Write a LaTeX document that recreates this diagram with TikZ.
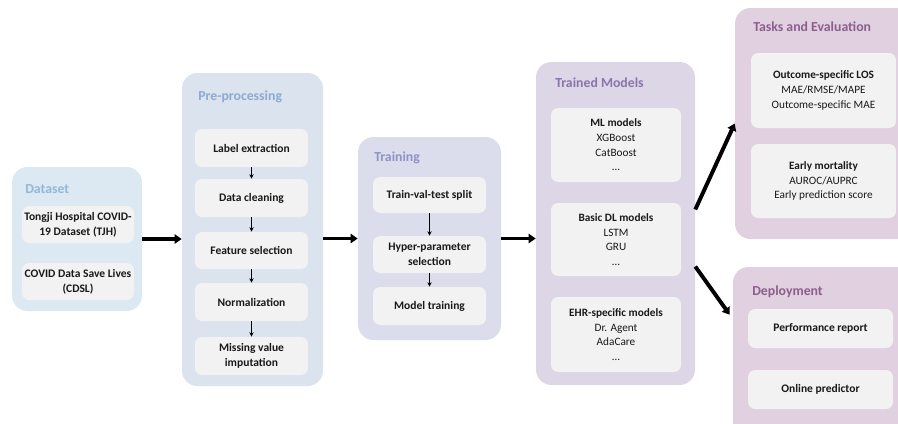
\documentclass[tikz,border=0pt]{standalone}
\usepackage{fontspec}
\setmainfont{Carlito}
\usetikzlibrary{fit,calc,arrows.meta}

\definecolor{dataBg}{HTML}{DCE9F2}
\definecolor{dataTitle}{HTML}{8FB9DA}
\definecolor{preBg}{HTML}{DAE3EE}
\definecolor{preTitle}{HTML}{8DAAD2}
\definecolor{trainBg}{HTML}{DCDDEC}
\definecolor{trainTitle}{HTML}{8E93C4}
\definecolor{modelBg}{HTML}{DCD6E6}
\definecolor{modelTitle}{HTML}{8D73AC}
\definecolor{evalBg}{HTML}{E0D0E0}
\definecolor{evalTitle}{HTML}{8E5E8E}
\definecolor{boxBg}{HTML}{F2F2F2}

% one unit of the grid
\newcommand{\pxu}{0.025cm}

\tikzset{
  panel/.style={fill=#1, rounded corners=11pt, inner sep=0pt},
  paneltitle/.style={anchor=west, text=#1, inner sep=0pt,
    font=\fontsize{9.8}{12}\selectfont\bfseries},
  boxsize/.style n args={2}{minimum width=#1*\pxu, minimum height=#2*\pxu},
  stepbox/.style={fill=boxBg, rounded corners=5pt, inner sep=0pt, align=center,
    text=black!90, font=\fontsize{8.2}{10.5}\selectfont\bfseries},
  listbox/.style={fill=boxBg, rounded corners=5pt, inner sep=0pt, align=center,
    text=black!90, font=\fontsize{8}{10.4}\selectfont},
  flow/.style={-{Triangle[length=5pt,width=6.5pt]}, line width=2.8pt},
  thinflow/.style={-{Stealth[length=3.2pt,width=3pt]}, line width=0.8pt},
}

\begin{document}
\begin{tikzpicture}[x=0.025cm, y=-0.025cm]
    \useasboundingbox (0,0) rectangle (898,423);
    \clip (0,0) rectangle (898,423);

    % stage panels
    \node[panel=dataBg, fit={(12,167) (142,311)}] (dataset) {};
    \node[panel=preBg, fit={(182,73) (323,386)}] (pre) {};
    \node[panel=trainBg, fit={(358,137) (501,340)}] (train) {};
    \node[panel=modelBg, fit={(536,62) (695,385)}] (models) {};
    \node[panel=evalBg, fit={(735,8) (915,239)}] (tasks) {};
    \node[panel=evalBg, fit={(733,267) (915,445)}] (deploy) {};

    \node[paneltitle=dataTitle] (dataset title) at (25,189) {Dataset};
    \node[paneltitle=preTitle] (pre title) at (198,97) {Pre-processing};
    \node[paneltitle=trainTitle] (train title) at (374,158) {Training};
    \node[paneltitle=modelTitle] (models title) at (555,83) {Trained Models};
    \node[paneltitle=evalTitle] (tasks title) at (753,27) {Tasks and Evaluation};
    \node[paneltitle=evalTitle] (deploy title) at (752,292) {Deployment};

    % datasets
    \node[stepbox, boxsize={112}{37}] (tjh) at (78,224.5) {Tongji Hospital COVID-\\19 Dataset (TJH)};
    \node[stepbox, boxsize={112}{37}] (cdsl) at (78,281.5) {COVID Data Save Lives\\(CDSL)};

    % pre-processing steps
    \node[stepbox, boxsize={113}{38}] (label) at (251.5,148) {Label extraction};
    \node[stepbox, boxsize={113}{38}] (clean) at (251.5,198) {Data cleaning};
    \node[stepbox, boxsize={113}{37}] (feature) at (251.5,250.5) {Feature selection};
    \node[stepbox, boxsize={113}{38}] (norm) at (251.5,302) {Normalization};
    \node[stepbox, boxsize={113}{38}] (impute) at (251.5,356) {Missing value\\imputation};

    \draw[thinflow] (label) -- (clean);
    \draw[thinflow] (clean) -- (feature);
    \draw[thinflow] (feature) -- (norm);
    \draw[thinflow] (norm) -- (impute);

    % training steps
    \node[stepbox, boxsize={113}{36}] (split) at (429.5,195) {Train-val-test split};
    \node[stepbox, boxsize={113}{37}] (hyper) at (429.5,254.5) {Hyper-parameter\\selection};
    \node[stepbox, boxsize={113}{38}] (fitting) at (429.5,306) {Model training};

    \draw[thinflow] (split) -- (hyper);
    \draw[thinflow] (hyper) -- (fitting);

    % model families
    \node[listbox, boxsize={130}{74}] (ml) at (616,145) {\textbf{ML models}\\XGBoost\\CatBoost\\…};
    \node[listbox, boxsize={130}{73}] (dl) at (616,239.5) {\textbf{Basic DL models}\\LSTM\\GRU\\…};
    \node[listbox, boxsize={130}{75}] (ehr) at (616,334.5) {\textbf{EHR-specific models}\\Dr. Agent\\AdaCare\\…};

    % tasks and deployment
    \node[listbox, boxsize={145}{75}] (los) at (823.5,90.5) {\textbf{Outcome-specific LOS}\\MAE/RMSE/MAPE\\Outcome-specific MAE};
    \node[listbox, boxsize={145}{74}] (mort) at (823.5,181) {\textbf{Early mortality}\\AUROC/AUPRC\\Early prediction score};
    \node[stepbox, boxsize={145}{39}] (report) at (820.5,328.5) {Performance report};
    \node[stepbox, boxsize={145}{39}] (online) at (820.5,389.5) {Online predictor};

    % main flow
    \draw[flow] (dataset.east) -- (dataset.east -| pre.west);
    \draw[flow] (pre.east |- train.west) -- (train.west);
    \draw[flow] (train.east) -- (train.east -| models.west);
    \draw[flow] ($(models.east)+(0,-14)$) -- (tasks.west);
    \draw[flow] ($(models.east)+(0,43)$) -- ($(deploy.north west)+(-3,48)$);
\end{tikzpicture}
\end{document}
